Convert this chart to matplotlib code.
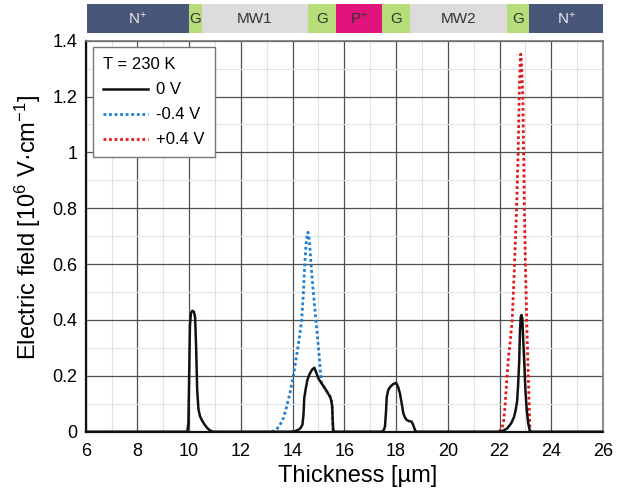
import numpy as np
import matplotlib.pyplot as plt
from matplotlib.patches import Rectangle
from matplotlib.ticker import MultipleLocator, FuncFormatter

plt.rcParams['font.family'] = ['Liberation Sans', 'DejaVu Sans']
plt.rcParams['mathtext.fontset'] = 'custom'
plt.rcParams['mathtext.rm'] = 'Liberation Sans'
plt.rcParams['mathtext.it'] = 'Liberation Sans'

# campo electrico a 0 V
x_0v = [6.0, 9.93, 9.97, 10.0, 10.03, 10.07, 10.12, 10.18, 10.23, 10.27, 10.31, 10.36,
        10.42, 10.5, 10.6, 10.7, 10.8, 10.93, 13.95, 14.1, 14.2, 14.3, 14.38, 14.42,
        14.45, 14.5, 14.57, 14.65, 14.75, 14.84, 14.9, 15.0, 15.12, 15.25, 15.35, 15.45,
        15.5, 15.53, 15.55, 15.57, 17.44, 17.52, 17.57, 17.61, 17.64, 17.7, 17.77, 17.88,
        18.0, 18.08, 18.15, 18.22, 18.28, 18.35, 18.41, 18.5, 18.6, 18.66, 18.73, 18.78,
        22.0, 22.15, 22.3, 22.45, 22.55, 22.62, 22.68, 22.72, 22.76, 22.79, 22.82, 22.85,
        22.88, 22.91, 22.96, 23.0, 23.05, 23.11, 23.18, 26.0]
e_0v = [0, 0, 0.03, 0.2, 0.38, 0.425, 0.433, 0.43, 0.41, 0.3, 0.15, 0.08,
        0.055, 0.04, 0.025, 0.013, 0.005, 0, 0, 0.002, 0.006, 0.012, 0.025, 0.06,
        0.12, 0.15, 0.185, 0.205, 0.222, 0.229, 0.215, 0.19, 0.173, 0.155, 0.14, 0.125,
        0.11, 0.09, 0.04, 0, 0, 0.005, 0.018, 0.07, 0.125, 0.15, 0.16, 0.17,
        0.175, 0.16, 0.137, 0.1, 0.066, 0.05, 0.042, 0.038, 0.036, 0.025, 0.006, 0,
        0, 0.004, 0.012, 0.03, 0.05, 0.075, 0.11, 0.17, 0.25, 0.36, 0.41, 0.418,
        0.405, 0.34, 0.24, 0.15, 0.08, 0.03, 0, 0]

# -0.4 V (solo la zona donde difiere)
x_neg = [13.2, 13.36, 13.51, 13.65, 13.77, 13.9, 14.03, 14.15, 14.25, 14.35, 14.42, 14.47,
         14.52, 14.56, 14.59, 14.62, 14.66, 14.71, 14.8, 14.9, 15.0, 15.09, 15.12, 15.25,
         15.35, 15.45, 15.5, 15.53, 15.55, 15.57]
e_neg = [0, 0.006, 0.024, 0.05, 0.09, 0.14, 0.2, 0.27, 0.33, 0.4, 0.5, 0.6,
         0.67, 0.705, 0.714, 0.705, 0.67, 0.6, 0.5, 0.4, 0.3, 0.2, 0.173, 0.155,
         0.14, 0.125, 0.11, 0.09, 0.04, 0]

# +0.4 V
x_pos = [21.98, 22.08, 22.15, 22.22, 22.28, 22.34, 22.42, 22.49, 22.58, 22.66, 22.72, 22.76,
         22.79, 22.82, 22.85, 22.9, 22.93, 22.96, 23.0, 23.05, 23.11, 23.18]
e_pos = [0, 0.01, 0.03, 0.1, 0.185, 0.26, 0.33, 0.4, 0.6, 0.8, 1.0, 1.2,
         1.3, 1.352, 1.32, 1.2, 1.0, 0.8, 0.6, 0.4, 0.2, 0]

# capas de la estructura
capas = ['N$^{+}$', 'G', 'MW1', 'G', 'P$^{+}$', 'G', 'MW2', 'G', 'N$^{+}$']
limites = [6.04, 10.0, 10.48, 14.58, 15.69, 17.46, 18.54, 22.3, 23.15, 26.0]
colores_capa = ['#485679', '#b7dc7a', '#dcdcdc', '#b7dc7a', '#e0147a',
                '#b7dc7a', '#dcdcdc', '#b7dc7a', '#485679']
colores_texto = ['#e8e8e8', '#333333', '#333333', '#333333', '#333333',
                 '#333333', '#333333', '#333333', '#e8e8e8']

fig = plt.figure(figsize=(6.21, 4.94), dpi=100)
ax = fig.add_axes([0.138, 0.1261, 0.833, 0.7915])

ax.plot(x_neg, e_neg, color='#1a7fd0', lw=2.0, ls=(0, (1, 1)), label='-0.4 V', zorder=2)
ax.plot(x_pos, e_pos, color='#e3191c', lw=2.0, ls=(0, (1, 1)), label='+0.4 V', zorder=2)
ax.plot(x_0v, e_0v, color='#111111', lw=1.8, label='0 V', zorder=3)

ax.set_xlim(6, 26)
ax.set_ylim(0, 1.4)
ax.xaxis.set_major_locator(MultipleLocator(2))
ax.xaxis.set_minor_locator(MultipleLocator(1))
ax.yaxis.set_major_locator(MultipleLocator(0.2))
ax.yaxis.set_minor_locator(MultipleLocator(0.1))
ax.yaxis.set_major_formatter(FuncFormatter(lambda v, p: '%g' % round(v, 1)))
ax.grid(which='major', color='#505050', lw=0.9)
ax.grid(which='minor', color='#e2e2e2', lw=0.8)
ax.set_axisbelow(True)
ax.tick_params(which='both', length=0)
ax.tick_params(axis='x', labelsize=13, pad=8)
ax.tick_params(axis='y', labelsize=13, pad=6)
for lado in ['left', 'bottom']:
    ax.spines[lado].set_color('#111111')
    ax.spines[lado].set_linewidth(1.6)
for lado in ['top', 'right']:
    ax.spines[lado].set_color('#777777')
    ax.spines[lado].set_linewidth(1.2)

ax.set_xlabel('Thickness [µm]', fontsize=17, labelpad=4, x=0.526)
ax.set_ylabel('Electric field [10$^{6}$ V·cm$^{-1}$]', fontsize=17, labelpad=7, y=0.522)

h, l = ax.get_legend_handles_labels()
orden = [2, 0, 1]
leg = ax.legend([h[i] for i in orden], [l[i] for i in orden], title='T = 230 K',
                loc='upper left', bbox_to_anchor=(0.0135, 0.983), borderaxespad=0,
                fontsize=12, title_fontsize=12, alignment='left', fancybox=False,
                edgecolor='#777777', framealpha=1, handlelength=2.7,
                handletextpad=0.5, labelspacing=0.6, borderpad=0.6)
leg.get_frame().set_linewidth(1.0)

# barra con las capas
axb = fig.add_axes([0.1396, 0.9332, 0.8314, 0.0587])
axb.set_xlim(6.04, 26)
axb.set_ylim(0, 1)
axb.axis('off')
for i, nombre in enumerate(capas):
    x0, x1 = limites[i], limites[i + 1]
    axb.add_patch(Rectangle((x0, 0), x1 - x0, 1, color=colores_capa[i], lw=0))
    axb.text((x0 + x1) / 2, 0.5, nombre, ha='center', va='center',
             fontsize=11, color=colores_texto[i])

fig.savefig('out.png', dpi=100)
